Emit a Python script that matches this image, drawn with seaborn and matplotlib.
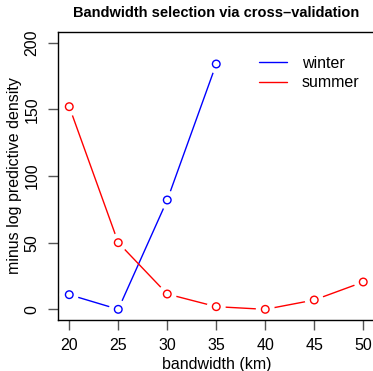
import matplotlib
matplotlib.use("Agg")
import matplotlib.pyplot as plt
import seaborn as sns
import pandas as pd

bandwidth_winter = [20, 25, 30, 35]
winter = [11, 0, 82, 184]
bandwidth_summer = [20, 25, 30, 35, 40, 45, 50]
summer = [152, 50, 11.5, 2, 0, 7, 20.5]
xticks = [20, 25, 30, 35, 40, 45, 50]
yticks = [0, 50, 100, 150, 200]

sns.set_style("white")
plt.rcParams['font.family'] = ['Liberation Sans', 'DejaVu Sans']
plt.rcParams['text.color'] = 'black'
plt.rcParams['axes.labelcolor'] = 'black'
plt.rcParams['xtick.labelcolor'] = 'black'
plt.rcParams['ytick.labelcolor'] = 'black'

dw = pd.DataFrame({"bw": bandwidth_winter, "val": winter})
ds = pd.DataFrame({"bw": bandwidth_summer, "val": summer})

fig = plt.figure(figsize=(3.73, 3.71), dpi=100)
ax = fig.add_axes([57.5/373, 1-320/371, (375-57.5)/373, (320-32)/371])

sns.lineplot(data=dw, x="bw", y="val", color="blue", lw=1, ax=ax, label="winter", zorder=2)
sns.lineplot(data=ds, x="bw", y="val", color="red", lw=1, ax=ax, label="summer", zorder=2)
for d in (dw, ds):
    sns.scatterplot(data=d, x="bw", y="val", color="white", s=185, edgecolor="none",
                    ax=ax, zorder=3, legend=False)
sns.scatterplot(data=dw, x="bw", y="val", facecolor="none", edgecolor="blue", s=30,
                linewidth=1, ax=ax, zorder=4, legend=False)
sns.scatterplot(data=ds, x="bw", y="val", facecolor="none", edgecolor="red", s=30,
                linewidth=1, ax=ax, zorder=4, legend=False)

ax.set_xlim(18.8, 51.2)
ax.set_ylim(-8, 208)
ax.set_xticks(xticks)
ax.set_yticks(yticks)
ax.set_yticklabels([str(v) for v in yticks], rotation=90, va="center")
ax.tick_params(axis="both", direction="out", length=7, width=1, color="#555555",
               labelsize=11.5, pad=6, bottom=True, left=True)
for s in ax.spines.values():
    s.set_color("black")
    s.set_linewidth(1)
ax.set_xlabel("bandwidth (km)", fontsize=11.5, labelpad=3)
ax.set_ylabel("minus log predictive density", fontsize=11.5, labelpad=2)
fig.text(216/373, 1-13/371, "Bandwidth selection via cross\u2013validation",
         ha="center", va="center", fontsize=10.5, fontweight="bold")
ax.legend(loc="upper right", bbox_to_anchor=(0.987, 0.957), frameon=False, fontsize=11.5,
          handlelength=1.75, handletextpad=0.95, labelspacing=0.3, borderaxespad=0.3)

fig.savefig("out.png", dpi=100)
